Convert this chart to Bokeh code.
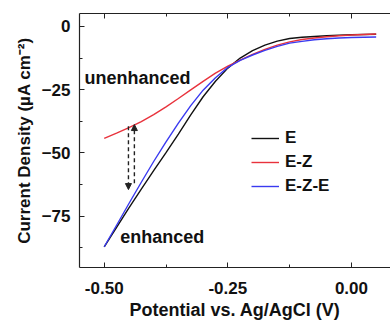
from bokeh.plotting import figure
from bokeh.models import (Range1d, LinearAxis, Legend, LegendItem, Label, Arrow,
                          NormalHead, SingleIntervalTicker, PrintfTickFormatter,
                          CustomJSTickFormatter)
from bokeh.embed import file_html
from bokeh.resources import INLINE

# ---- data ----
potential = [-0.500, -0.475, -0.450, -0.425, -0.400, -0.375, -0.350, -0.325,
             -0.300, -0.275, -0.250, -0.225, -0.200, -0.175, -0.150, -0.125,
             -0.100, -0.075, -0.050, -0.025, 0.000, 0.025, 0.050]
curr_E = [-87.1, -79.4, -71.7, -64.3, -57.0, -49.9, -42.6, -35.0,
          -27.8, -21.7, -16.5, -12.5, -9.6, -7.4, -5.8, -4.8,
          -4.3, -4.0, -3.7, -3.5, -3.3, -3.2, -3.1]
curr_EZ = [-44.3, -42.2, -40.0, -37.6, -34.9, -31.8, -28.5, -25.1,
           -21.7, -18.5, -15.7, -13.3, -11.1, -9.1, -7.4, -6.1,
           -5.2, -4.6, -4.1, -3.7, -3.4, -3.2, -3.0]
curr_EZE = [-87.1, -78.6, -70.0, -61.6, -53.4, -45.6, -38.2, -31.3,
            -25.2, -20.3, -16.2, -13.4, -11.3, -9.5, -7.9, -6.6,
            -5.9, -5.3, -4.9, -4.6, -4.4, -4.3, -4.2]
series_names = ["E", "E-Z", "E-Z-E"]
series_colors = ["#111111", "#e8323c", "#3a3af0"]

arrow_x = [-0.451, -0.439]
arrow_y_from = [-39.5, -62.0]
arrow_y_to = [-64.5, -38.8]

x_title = "Potential vs. Ag/AgCl (V)"
y_title = "Current Density (µA cm⁻²)"

FONT = "Liberation Sans"
FS = "17px"

p = figure(width=390, height=322, output_backend="svg", toolbar_location=None,
           x_range=Range1d(-0.55, 0.079), y_range=Range1d(-95.3, 5.1),
           min_border_left=79, min_border_right=0, min_border_top=13,
           min_border_bottom=53, x_axis_location=None, y_axis_location=None)
p.outline_line_color = None
p.grid.visible = False
p.background_fill_color = "white"
p.border_fill_color = "white"

def style_axis(ax):
    ax.axis_line_color = "#222222"
    ax.axis_line_width = 1.2
    ax.major_tick_in = 5
    ax.major_tick_out = 0
    ax.minor_tick_in = 3
    ax.minor_tick_out = 0
    ax.major_tick_line_color = "#222222"
    ax.minor_tick_line_color = "#222222"
    ax.major_label_text_font = FONT
    ax.major_label_text_font_style = "bold"
    ax.major_label_text_font_size = FS
    ax.major_label_text_color = "#111111"
    ax.axis_label_text_font = FONT
    ax.axis_label_text_font_style = "bold"
    ax.axis_label_text_font_size = FS
    ax.axis_label_text_color = "#111111"

xb = LinearAxis(ticker=SingleIntervalTicker(interval=0.25, num_minor_ticks=2),
                formatter=PrintfTickFormatter(format="%.2f"),
                axis_label=x_title)
style_axis(xb)
xb.axis_label_text_font_size = "18px"
xb.major_label_standoff = 14
xb.axis_label_standoff = 3
p.add_layout(xb, "below")

xt = LinearAxis(ticker=SingleIntervalTicker(interval=0.25, num_minor_ticks=2),
                formatter=CustomJSTickFormatter(code="return ''"))
style_axis(xt)
xt.major_label_standoff = 0
p.add_layout(xt, "above")

yl = LinearAxis(ticker=SingleIntervalTicker(interval=25, num_minor_ticks=2),
                axis_label=y_title)
style_axis(yl)
yl.major_label_standoff = 9
yl.axis_label_standoff = 5
p.add_layout(yl, "left")

renderers = []
for ys, c in zip([curr_E, curr_EZ, curr_EZE], series_colors):
    r = p.line(potential, ys, line_color=c, line_width=1.4)
    renderers.append(r)

legend = Legend(items=[LegendItem(label=n, renderers=[r]) for n, r in zip(series_names, renderers)],
                location=(172, 71), orientation="vertical")
legend.background_fill_alpha = 0
legend.border_line_color = None
legend.padding = 0
legend.margin = 0
legend.spacing = 4
legend.glyph_width = 28
legend.glyph_height = 20
legend.label_height = 20
legend.label_standoff = 6
legend.label_text_font = FONT
legend.label_text_font_style = "bold"
legend.label_text_font_size = FS
legend.label_text_color = "#111111"
p.add_layout(legend)

for ax_x, y0, y1 in zip(arrow_x, arrow_y_from, arrow_y_to):
    p.add_layout(Arrow(x_start=ax_x, y_start=y0, x_end=ax_x, y_end=y1,
                       line_color="#222222", line_width=1.4, line_dash="4 3",
                       end=NormalHead(size=6, line_color="#222222", line_width=1,
                                      fill_color="#222222")))

p.add_layout(Label(x=-0.540, y=-20.3, text="unenhanced", text_font=FONT,
                   text_font_style="bold", text_font_size="18px", text_color="#111111",
                   text_baseline="middle"))
p.add_layout(Label(x=-0.4676, y=-83.2, text="enhanced", text_font=FONT,
                   text_font_style="bold", text_font_size="18px", text_color="#111111",
                   text_baseline="middle"))

open("out.html", "w").write(file_html(p, INLINE))
